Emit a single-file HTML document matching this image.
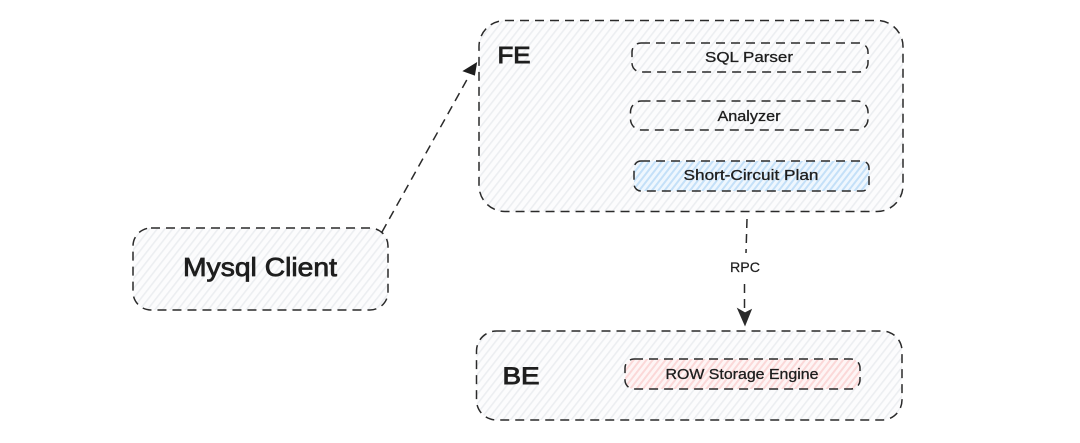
<!DOCTYPE html>
<html>
<head>
<meta charset="utf-8">
<style>
html,body{margin:0;padding:0;background:#fff;width:1080px;height:443px;overflow:hidden}
svg{display:block}
text{font-family:"Liberation Sans",sans-serif;fill:#1e1e1e;text-anchor:middle;stroke:#1e1e1e}
.b{fill:none;stroke:#2a2a2a;stroke-width:1.5;stroke-dasharray:9 6}
</style>
</head>
<body>
<svg width="1080" height="443" viewBox="0 0 1080 443" xmlns="http://www.w3.org/2000/svg">
<defs>
<pattern id="g" width="6" height="6" patternUnits="userSpaceOnUse" patternTransform="rotate(-52)">
<rect width="6" height="6" fill="#fcfcfd"/>
<rect y="0" width="6" height="1.6" fill="#eceef1"/>
</pattern>
<pattern id="bl" width="5" height="5" patternUnits="userSpaceOnUse" patternTransform="rotate(-52)">
<rect width="5" height="5" fill="#eff7fe"/>
<rect y="0" width="5" height="2" fill="#c4e0f8"/>
</pattern>
<pattern id="r" width="5" height="5" patternUnits="userSpaceOnUse" patternTransform="rotate(-52)">
<rect width="5" height="5" fill="#fef5f5"/>
<rect y="0" width="5" height="2" fill="#fbd8d8"/>
</pattern>
</defs>

<rect class="b" x="479" y="20.500" width="424" height="191" rx="26" style="fill:url(#g)"/>
<rect class="b" x="632" y="43" width="236" height="29" rx="9" style="fill:url(#g)"/>
<rect class="b" x="630.500" y="101" width="237.500" height="29" rx="11" style="fill:url(#g)"/>
<rect class="b" x="634" y="161" width="235" height="30" rx="7" style="fill:url(#bl)"/>

<rect class="b" x="476.500" y="331" width="425.500" height="89" rx="20" style="fill:url(#g)"/>
<rect class="b" x="625" y="359" width="235" height="30" rx="9" style="fill:url(#r)"/>

<rect class="b" x="133" y="228" width="255" height="82" rx="18" style="fill:url(#g)"/>

<path class="b" d="M382 232 L469 76"/>
<path d="M476.500 63 L474.500 75 L463.500 71 Z" fill="#1e1e1e" stroke="#1e1e1e"/>

<path class="b" d="M747 219 L746 253"/>
<path class="b" d="M744.500 284 L744.500 320"/>
<path d="M738 309 L745 325 L751 310 L745 313 Z" fill="#2a2a2a" stroke="#2a2a2a" stroke-width="1.2"/>

<text x="514" y="63" font-size="23" stroke-width=".9" textLength="33" lengthAdjust="spacingAndGlyphs">FE</text>
<text x="521" y="384" font-size="24" stroke-width=".9" textLength="37" lengthAdjust="spacingAndGlyphs">BE</text>
<text x="260" y="276" font-size="26" stroke-width=".8" textLength="154" lengthAdjust="spacingAndGlyphs">Mysql Client</text>
<text x="749" y="62" font-size="15" stroke-width=".3" textLength="88" lengthAdjust="spacingAndGlyphs">SQL Parser</text>
<text x="749" y="121" font-size="15" stroke-width=".3" textLength="63" lengthAdjust="spacingAndGlyphs">Analyzer</text>
<text x="751" y="180" font-size="15" stroke-width=".3" textLength="135" lengthAdjust="spacingAndGlyphs">Short-Circuit Plan</text>
<text x="742" y="379" font-size="15" stroke-width=".3" textLength="153" lengthAdjust="spacingAndGlyphs">ROW Storage Engine</text>
<text x="745" y="272" font-size="14" stroke-width=".2" textLength="30" lengthAdjust="spacingAndGlyphs">RPC</text>
</svg>
</body>
</html>
